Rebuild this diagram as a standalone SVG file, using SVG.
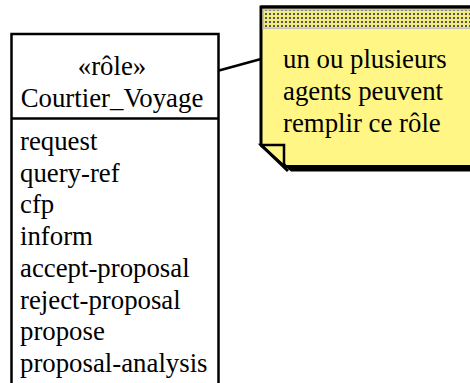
<svg xmlns="http://www.w3.org/2000/svg" width="470" height="383" viewBox="0 0 470 383">
<defs>
<style>
.t{font-family:"Liberation Serif","Times New Roman",serif;font-size:26.8px;fill:#000}
.c{text-anchor:middle}
</style>
<pattern id="dots" x="0" y="0" width="4" height="4" patternUnits="userSpaceOnUse">
<rect width="4" height="4" fill="#f2ec80"/>
<rect x="1" y="1" width="2" height="2" fill="#555"/>
</pattern>
</defs>
<rect width="470" height="383" fill="#fff"/>
<g id="connectors">
<line x1="219" y1="70.5" x2="261" y2="59" stroke="#000" stroke-width="2.5"/>
</g>
<g id="role">
<rect x="11.5" y="34" width="207" height="360" fill="#fff" stroke="#000" stroke-width="2.5"/>
<line x1="11.5" y1="118.5" x2="218.5" y2="118.5" stroke="#000" stroke-width="2.5"/>
<text class="t c" x="112" y="75">«rôle»</text>
<text class="t c" x="112" y="106.5">Courtier_Voyage</text>
<text class="t" x="20" y="150">request</text>
<text class="t" x="20" y="181.7">query-ref</text>
<text class="t" x="20" y="213.4">cfp</text>
<text class="t" x="20" y="245.1">inform</text>
<text class="t" x="20" y="276.8">accept-proposal</text>
<text class="t" x="20" y="308.5">reject-proposal</text>
<text class="t" x="20" y="340.2">propose</text>
<text class="t" x="20" y="371.9">proposal-analysis</text>
</g>
<g id="note">
<polygon points="265,11 485,11 485,171.5 291,171.5 265,149.5" fill="#000"/>
<polygon points="261,7 480,7 480,166.5 286,166.5 261,145" fill="#fff685" stroke="#000" stroke-width="3" stroke-linejoin="miter"/>
<rect x="262.5" y="8.5" width="220" height="20.5" fill="#c0c0c0"/>
<rect x="264" y="10.5" width="220" height="17" fill="url(#dots)"/>
<line x1="261" y1="7" x2="480" y2="7" stroke="#000" stroke-width="3"/>
<polygon points="261,145 284,145 284,166" fill="#fff685" stroke="#000" stroke-width="2.5"/>
<line x1="261" y1="145" x2="288" y2="171" stroke="#000" stroke-width="3"/>
<text class="t" x="283" y="68.3">un ou plusieurs</text>
<text class="t" x="283" y="100">agents peuvent</text>
<text class="t" x="283" y="131.5">remplir ce rôle</text>
</g>
</svg>
